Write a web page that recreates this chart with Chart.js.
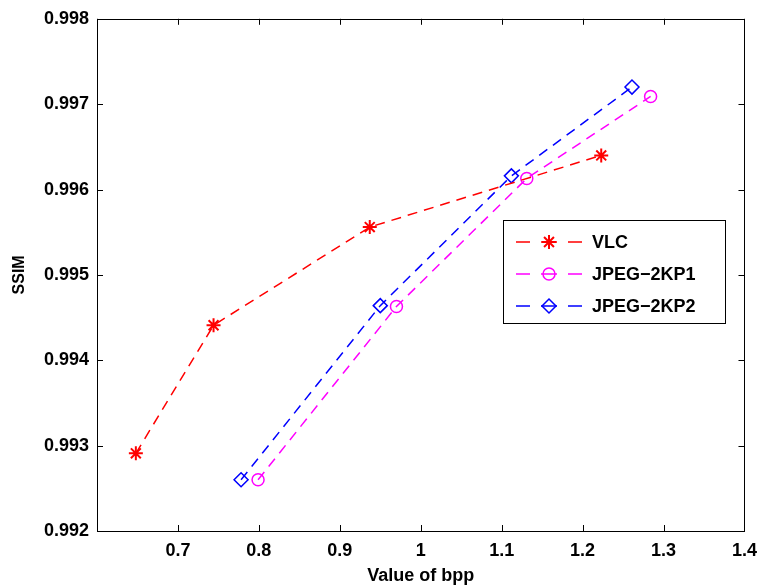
<!DOCTYPE html>
<html>
<head>
<meta charset="utf-8">
<script src="https://cdn.jsdelivr.net/npm/chart.js@4.4.0/dist/chart.umd.min.js"></script>
<style>
  html, body { margin: 0; padding: 0; background: #fff; }
  #wrap { width: 766px; height: 587px; }
</style>
</head>
<body>
<div id="wrap"><canvas id="myChart" width="766" height="587"></canvas></div>
<script>
// values
var vlcX = [0.648, 0.744, 0.937, 1.223];
var vlcY = [0.99291, 0.99441, 0.99556, 0.99640];
var kp1X = [0.799, 0.970, 1.131, 1.284];
var kp1Y = [0.99260, 0.99463, 0.99613, 0.99709];
var kp2X = [0.778, 0.950, 1.112, 1.261];
var kp2Y = [0.99260, 0.99464, 0.99616, 0.99720];
var seriesNames = ["VLC", "JPEG\u22122KP1", "JPEG\u22122KP2"];
var xTicks = [0.6, 0.7, 0.8, 0.9, 1.0, 1.1, 1.2, 1.3, 1.4];
var yTicks = [0.992, 0.993, 0.994, 0.995, 0.996, 0.997, 0.998];

function pts(xs, ys) {
	var out = [];
	for (var i = 0; i < xs.length; i++) out.push({x: xs[i], y: ys[i]});
	return out;
}

var FONT = "'Liberation Sans', Arial, sans-serif";

// MATLAB style box with inward ticks and legend
var matlabBox = {
	id: "matlabBox",
	afterDraw: function (chart) {
		var ctx = chart.ctx, a = chart.chartArea;
		var xs = chart.scales.x, ys = chart.scales.y;
		ctx.save();
		ctx.strokeStyle = "#000";
		ctx.lineWidth = 1;
		ctx.strokeRect(Math.round(a.left) + 0.5, Math.round(a.top) + 0.5,
			Math.round(a.right - a.left), Math.round(a.bottom - a.top));
		ctx.beginPath();
		xTicks.forEach(function (v) {
			var px = Math.round(xs.getPixelForValue(v)) + 0.5;
			ctx.moveTo(px, a.bottom); ctx.lineTo(px, a.bottom - 6);
			ctx.moveTo(px, a.top); ctx.lineTo(px, a.top + 6);
		});
		yTicks.forEach(function (v) {
			var py = Math.round(ys.getPixelForValue(v)) + 0.5;
			ctx.moveTo(a.left, py); ctx.lineTo(a.left + 6, py);
			ctx.moveTo(a.right, py); ctx.lineTo(a.right - 6, py);
		});
		ctx.stroke();

		// legend
		var bx = 503, by = 220, bw = 222, bh = 103;
		ctx.fillStyle = "#fff";
		ctx.fillRect(bx, by, bw, bh);
		ctx.strokeRect(bx + 0.5, by + 0.5, bw, bh);
		var rows = [242, 274, 306];
		ctx.font = "bold 18px " + FONT;
		ctx.textBaseline = "middle";
		chart.data.datasets.forEach(function (ds, i) {
			var y = rows[i];
			ctx.strokeStyle = ds.borderColor;
			ctx.lineWidth = ds.borderWidth;
			ctx.setLineDash([]);
			ctx.beginPath();
			ctx.moveTo(516, y); ctx.lineTo(530, y);
			ctx.moveTo(541, y); ctx.lineTo(557, y);
			ctx.moveTo(568, y); ctx.lineTo(582, y);
			ctx.stroke();
			ctx.fillStyle = "rgba(0,0,0,0)";
			ctx.lineWidth = ds.pointBorderWidth;
			Chart.helpers.drawPoint(ctx, {
				pointStyle: ds.pointStyle,
				radius: ds.pointRadius,
				borderWidth: ds.pointBorderWidth,
				rotation: 0
			}, 549, y);
			ctx.fillStyle = "#000";
			ctx.fillText(ds.label, 592, y + 1);
		});
		ctx.restore();
	}
};

function dataset(label, color, style, r, w, data) {
	return {
		label: label,
		data: data,
		borderColor: color,
		backgroundColor: "rgba(0,0,0,0)",
		pointBorderColor: color,
		pointBackgroundColor: "rgba(0,0,0,0)",
		borderWidth: 1.5,
		borderDash: [10, 7],
		pointStyle: style,
		pointRadius: r,
		pointBorderWidth: w,
		showLine: true,
		tension: 0
	};
}

new Chart("myChart", {
	type: "scatter",
	data: {
		datasets: [
			dataset(seriesNames[0], "#ff0000", "star", 7, 2, pts(vlcX, vlcY)),
			dataset(seriesNames[1], "#ff00ff", "circle", 6, 1.5, pts(kp1X, kp1Y)),
			dataset(seriesNames[2], "#0000ff", "rectRot", 7, 1.5, pts(kp2X, kp2Y))
		]
	},
	options: {
		responsive: false,
		animation: false,
		layout: {padding: {left: 0, top: 15, right: 20, bottom: 0}},
		plugins: {
			legend: {display: false},
			tooltip: {enabled: false}
		},
		scales: {
			x: {
				type: "linear",
				min: 0.6,
				max: 1.4,
				afterFit: function (s) { s.height = 56; },
				afterBuildTicks: function (s) { s.ticks = xTicks.map(function (v) { return {value: v}; }); },
				grid: {display: false, drawTicks: false},
				border: {display: false},
				ticks: {
					padding: 9,
					color: "#000",
					font: {family: FONT, size: 18, weight: "bold"},
					callback: function (v) {
						if (Math.abs(v - 0.6) < 1e-9) return "";
						return String(Math.round(v * 10) / 10);
					}
				},
				title: {
					display: true,
					text: "Value of bpp",
					color: "#000",
					font: {family: FONT, size: 18, weight: "bold"},
					padding: {top: 0, bottom: 0}
				}
			},
			y: {
				type: "linear",
				min: 0.992,
				max: 0.998,
				afterFit: function (s) { s.width = 97; },
				afterBuildTicks: function (s) { s.ticks = yTicks.map(function (v) { return {value: v}; }); },
				grid: {display: false, drawTicks: false},
				border: {display: false},
				ticks: {
					padding: 8,
					color: "#000",
					font: {family: FONT, size: 18, weight: "bold"},
					callback: function (v) { return v.toFixed(3); }
				},
				title: {
					display: true,
					text: "SSIM",
					color: "#000",
					font: {family: FONT, size: 16, weight: "bold"},
					padding: {top: 10, bottom: 0}
				}
			}
		}
	},
	plugins: [matlabBox]
});
</script>
</body>
</html>
